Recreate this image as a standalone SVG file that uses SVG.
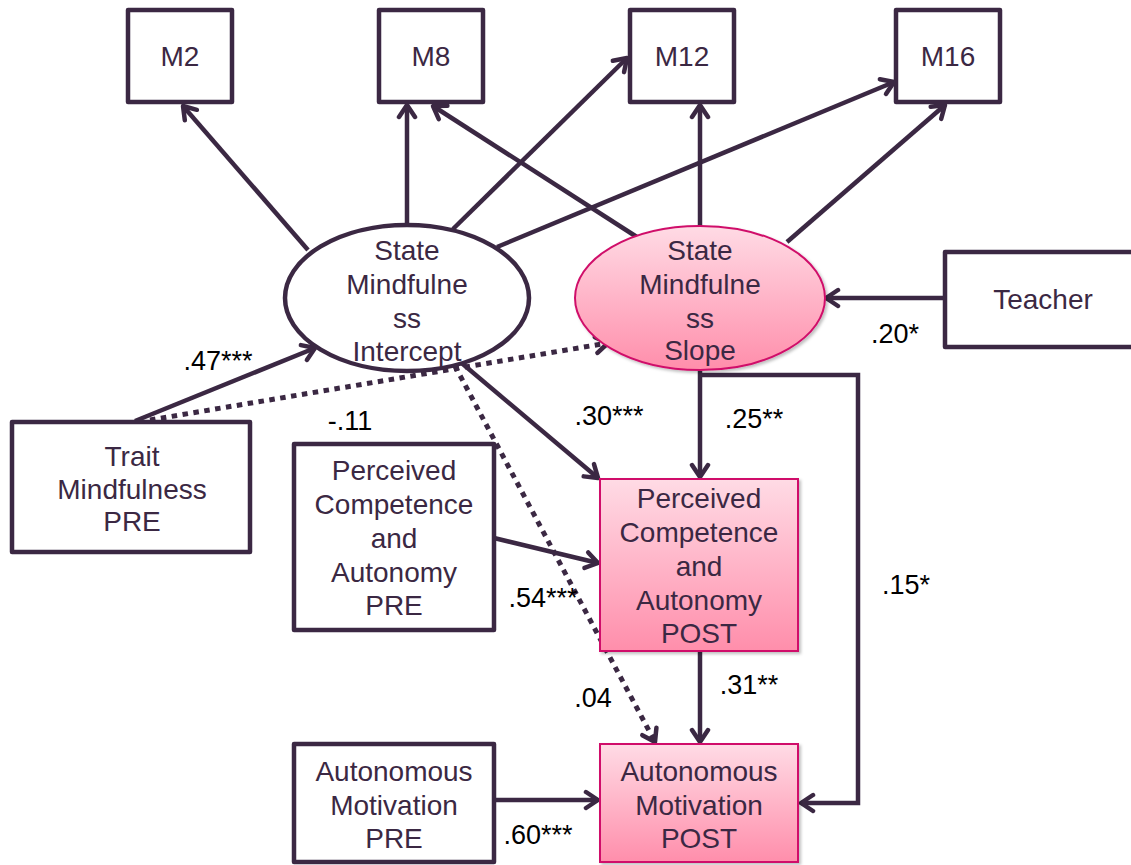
<svg xmlns="http://www.w3.org/2000/svg" width="1131" height="865" viewBox="0 0 1131 865">
<style>
.box{fill:#fff;stroke:#3b2843;stroke-width:4.5;stroke-linejoin:round}
.ell{fill:#fff;stroke:#3b2843;stroke-width:4.5}
.pink{fill:url(#pg);stroke:#d0106a;stroke-width:2;filter:url(#sh)}
.nt{font-family:"Liberation Sans",Arial,sans-serif;font-size:28px;fill:#3b2843;text-anchor:middle}
.lb{font-family:"Liberation Sans",Arial,sans-serif;font-size:27px;fill:#000;text-anchor:middle}
.c{fill:none;stroke:#3b2843;stroke-width:4.5;marker-end:url(#ah)}
.d{fill:none;stroke:#3b2843;stroke-width:5;stroke-dasharray:5.5 5.5;marker-end:url(#ah)}
</style>
<defs>
<linearGradient id="pg" x1="0" y1="0" x2="0" y2="1">
<stop offset="0" stop-color="#ffdbe5"/>
<stop offset="1" stop-color="#ff8eab"/>
</linearGradient>
<filter id="sh" x="-10%" y="-10%" width="125%" height="125%">
<feDropShadow dx="2" dy="2" stdDeviation="1.5" flood-color="#000" flood-opacity="0.25"/>
</filter>
<marker id="ah" viewBox="0 0 18 22" refX="15" refY="11" markerWidth="18" markerHeight="22" markerUnits="userSpaceOnUse" orient="auto">
<path d="M3,3 L15,11 L3,19" fill="none" stroke="#3b2843" stroke-width="4.5" stroke-linecap="round" stroke-linejoin="round"/>
</marker>
</defs>
<rect width="1131" height="865" fill="#fff"/>

<g id="connectors">
<line class="c" x1="308" y1="250" x2="183" y2="106"/>
<line class="c" x1="407" y1="226" x2="407" y2="105"/>
<line class="c" x1="453" y1="229" x2="627" y2="58"/>
<line class="c" x1="497" y1="247" x2="894" y2="82"/>
<line class="c" x1="640" y1="239" x2="433" y2="106"/>
<line class="c" x1="700" y1="227" x2="700" y2="105"/>
<line class="c" x1="787" y1="242" x2="945" y2="105"/>
<line class="c" x1="945" y1="298" x2="826" y2="298"/>
<line class="c" x1="135" y1="421" x2="315" y2="348"/>
<path class="d" d="M150,420 L608,343"/>
<line class="c" x1="458" y1="360" x2="598" y2="478"/>
<path class="d" d="M455,366 L655,742"/>
<line class="c" x1="700" y1="371" x2="700" y2="477"/>
<path class="c" d="M700,375 L858,375 L858,803 L801,803"/>
<line class="c" x1="494" y1="538" x2="598" y2="563"/>
<line class="c" x1="700" y1="652" x2="700" y2="742"/>
<line class="c" x1="494" y1="800" x2="598" y2="800"/>
</g>

<g id="M2"><rect class="box" x="128" y="10" width="104" height="92"/><text class="nt" x="180" y="66">M2</text></g>
<g id="M8"><rect class="box" x="379" y="10" width="104" height="92"/><text class="nt" x="431" y="66">M8</text></g>
<g id="M12"><rect class="box" x="630" y="10" width="104" height="92"/><text class="nt" x="682" y="66">M12</text></g>
<g id="M16"><rect class="box" x="896" y="10" width="104" height="92"/><text class="nt" x="948" y="66">M16</text></g>

<g id="intercept"><ellipse class="ell" cx="407" cy="298" rx="122" ry="73"/>
<text class="nt" x="407" y="260">State</text><text class="nt" x="407" y="294">Mindfulne</text><text class="nt" x="407" y="328">ss</text><text class="nt" x="407" y="361">Intercept</text></g>

<g id="slope"><ellipse class="pink" cx="700" cy="298" rx="125" ry="72"/>
<text class="nt" x="700" y="260">State</text><text class="nt" x="700" y="294">Mindfulne</text><text class="nt" x="700" y="328">ss</text><text class="nt" x="700" y="360">Slope</text></g>

<g id="teacher"><rect class="box" x="945" y="252" width="200" height="95"/><text class="nt" x="1043" y="309">Teacher</text></g>

<g id="trait"><rect class="box" x="12" y="422" width="238" height="130"/>
<text class="nt" x="132" y="466">Trait</text><text class="nt" x="132" y="499">Mindfulness</text><text class="nt" x="132" y="531">PRE</text></g>

<g id="pcaPre"><rect class="box" x="294" y="444" width="200" height="186"/>
<text class="nt" x="394" y="480">Perceived</text><text class="nt" x="394" y="514">Competence</text><text class="nt" x="394" y="548">and</text><text class="nt" x="394" y="582">Autonomy</text><text class="nt" x="394" y="615">PRE</text></g>

<g id="pcaPost"><rect class="pink" x="600" y="479" width="198" height="172"/>
<text class="nt" x="699" y="508">Perceived</text><text class="nt" x="699" y="542">Competence</text><text class="nt" x="699" y="576">and</text><text class="nt" x="699" y="610">Autonomy</text><text class="nt" x="699" y="643">POST</text></g>

<g id="amPre"><rect class="box" x="294" y="744" width="200" height="118"/>
<text class="nt" x="394" y="781">Autonomous</text><text class="nt" x="394" y="815">Motivation</text><text class="nt" x="394" y="848">PRE</text></g>

<g id="amPost"><rect class="pink" x="600" y="744" width="198" height="118"/>
<text class="nt" x="699" y="781">Autonomous</text><text class="nt" x="699" y="815">Motivation</text><text class="nt" x="699" y="848">POST</text></g>

<g id="labels">
<text class="lb" x="218" y="370">.47***</text>
<text class="lb" x="350" y="430">-.11</text>
<text class="lb" x="609" y="425">.30***</text>
<text class="lb" x="754" y="428">.25**</text>
<text class="lb" x="895" y="343">.20*</text>
<text class="lb" x="906" y="594">.15*</text>
<text class="lb" x="543" y="607">.54***</text>
<text class="lb" x="593" y="707">.04</text>
<text class="lb" x="749" y="694">.31**</text>
<text class="lb" x="538" y="844">.60***</text>
</g>
</svg>
